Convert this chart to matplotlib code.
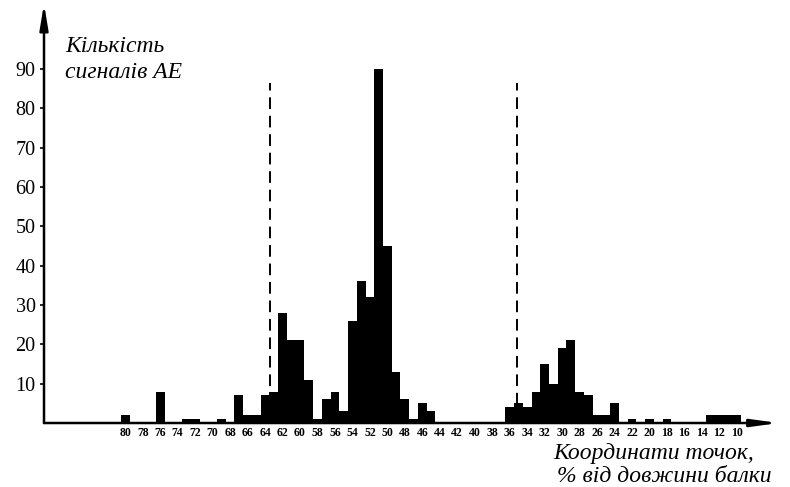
import numpy as np
import matplotlib.pyplot as plt

# координати точок (% від довжини балки) і кількість сигналів АЕ
coords = list(range(80, 9, -1))
counts = [2, 0, 0, 0, 8, 0, 0, 1, 1, 0,      # 80..71
          0, 1, 0, 7, 2, 2, 7, 8, 28, 21,    # 70..61
          21, 11, 1, 6, 8, 3, 26, 36, 32, 90,  # 60..51
          45, 13, 6, 1, 5, 3, 0, 0, 0, 0,    # 50..41
          0, 0, 0, 0, 4, 5, 4, 8, 15, 10,    # 40..31
          19, 21, 8, 7, 2, 2, 5, 0, 1, 0,    # 30..21
          1, 0, 1, 0, 0, 0, 0, 2, 2, 2,      # 20..11
          2]                                 # 10
tick_labels = list(range(80, 9, -2))
y_ticks = [10, 20, 30, 40, 50, 60, 70, 80, 90]
dash_lines = [63.4, 35.2]
dash_top = 86.5

plt.rcParams['font.family'] = ['Liberation Serif', 'DejaVu Serif']

fig = plt.figure(figsize=(7.9, 4.87), dpi=100)
ax = fig.add_axes([0.0557, 0.1314, 0.919, 0.848])

ax.bar(coords, counts, width=1.0, color='black', edgecolor='none')

for xd in dash_lines:
    ax.plot([xd, xd], [0, dash_top], color='black', lw=1.4, dashes=(6, 3.5))

ax.set_xlim(89.3, 6.2)
ax.set_ylim(0, 105)

for s in ax.spines.values():
    s.set_visible(False)

# осі зі стрілками
ax.annotate('', xy=(1.012, 0), xytext=(0, 0), xycoords='axes fraction',
            arrowprops=dict(arrowstyle='-|>,head_length=1.6,head_width=0.22',
                            lw=1.8, color='black', shrinkA=0, shrinkB=0))
ax.annotate('', xy=(0, 1.015), xytext=(0, 0), xycoords='axes fraction',
            arrowprops=dict(arrowstyle='-|>,head_length=1.5,head_width=0.25',
                            lw=1.8, color='black', shrinkA=0, shrinkB=0))

ax.set_xticks(tick_labels)
ax.set_xticklabels([str(t) for t in tick_labels], fontsize=8.5, fontweight='bold')
ax.tick_params(axis='x', length=0, pad=3)

ax.set_yticks(y_ticks)
ax.set_yticklabels([str(t) for t in y_ticks], fontsize=14.5)
ax.tick_params(axis='y', direction='out', length=3, width=1.2, pad=3)

fig.text(65 / 790, 1 - 46 / 487, 'Кількість', fontsize=17,
         style='italic', va='center', ha='left')
fig.text(65 / 790, 1 - 72 / 487, 'сигналів АЕ', fontsize=17,
         style='italic', va='center', ha='left')
fig.text(553 / 790, 1 - 453 / 487, 'Координати точок,', fontsize=17,
         style='italic', va='center', ha='left')
fig.text(557 / 790, 1 - 476 / 487, '% від довжини балки', fontsize=17,
         style='italic', va='center', ha='left')

fig.savefig('out.png', dpi=100)
